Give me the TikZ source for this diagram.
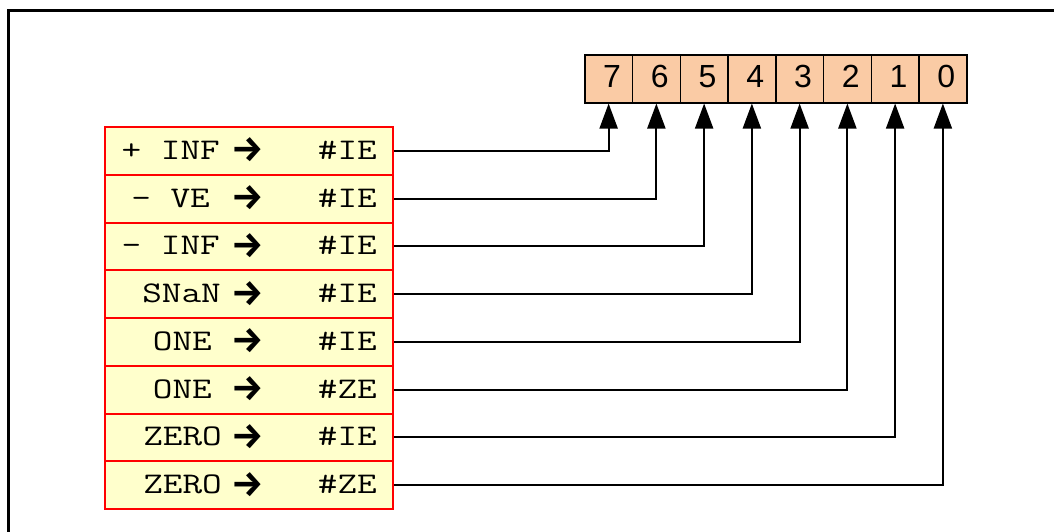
\documentclass[tikz,border=0pt]{standalone}
\usepackage{fontspec}
\setmainfont{Liberation Sans}
\setsansfont{Liberation Sans}
\newfontfamily\courfont[FakeStretch=1.27]{Latin Modern Mono}
\newfontfamily\arrowfont{Fira Sans}
\usetikzlibrary{arrows.meta}
\definecolor{tabfill}{HTML}{FFFFCC}
\definecolor{tabline}{HTML}{FF0000}
\definecolor{bitfill}{HTML}{FACBA5}
\tikzset{
  rowbox/.style={draw=tabline, line width=2pt, fill=tabfill, minimum width=288pt, minimum height=47.75pt, inner sep=0pt, anchor=north west},
  bitbox/.style={draw=black, line width=1.5pt, fill=bitfill, minimum width=47.75pt, minimum height=48pt, inner sep=0pt, anchor=north west},
  bitnum/.style={font=\sffamily\fontsize{32}{36}\selectfont, inner sep=0pt, anchor=base},
  lab/.style={font=\courfont\fontsize{30}{36}\selectfont, inner sep=0pt},
  arr/.style={font=\arrowfont\bfseries\fontsize{36}{40}\selectfont, inner sep=0pt, anchor=center},
  conn/.style={draw=black, line width=2pt, -{Triangle[length=25pt,width=18pt]}},
  frame/.style={draw=black, line width=3pt}
}
\begin{document}
\begin{tikzpicture}[x=1pt,y=-1pt]
\useasboundingbox (0,0) rectangle (1054,531);
\clip (0,0) rectangle (1054,531);
\draw[frame] (8,560) -- (8,10) -- (1080,10);
% bit cells
\foreach \i/\n in {0/7,1/6,2/5,3/4,4/3,5/2,6/1,7/0}{
  \node[bitbox] (b\n) at ({584+47.75*\i},54) {};
  \node[bitnum] (bn\n) at ({584+47.75*\i+27.9},87) {\n};
}
% table rows
\foreach \i in {1,...,8}{
  \node[rowbox] (r\i) at (104,{126+47.75*(\i-1)}) {};
}
% left labels
\node[lab, anchor=base east] (l1) at (220,159.3) {+ INF};
\node[lab, anchor=base east] (l2) at (210,207.0) {- VE};
\node[lab, anchor=base east] (l3) at (220,254.8) {- INF};
\node[lab, anchor=base east] (l4) at (221,302.5) {SNaN};
\node[lab, anchor=base east] (l5) at (212,350.3) {ONE};
\node[lab, anchor=base east] (l6) at (212,398.0) {ONE};
\node[lab, anchor=base east] (l7) at (222,445.8) {ZERO};
\node[lab, anchor=base east] (l8) at (222,493.5) {ZERO};
% arrows
\foreach \i in {1,...,8}{
  \node[arr] (a\i) at (248,{150+47.75*(\i-1)}) {→};
}
% right labels
\node[lab, anchor=base east] (e1) at (377,159.3) {\#IE};
\node[lab, anchor=base east] (e2) at (377,207.0) {\#IE};
\node[lab, anchor=base east] (e3) at (377,254.8) {\#IE};
\node[lab, anchor=base east] (e4) at (377,302.5) {\#IE};
\node[lab, anchor=base east] (e5) at (377,350.3) {\#IE};
\node[lab, anchor=base east] (e6) at (377,398.0) {\#ZE};
\node[lab, anchor=base east] (e7) at (377,445.8) {\#IE};
\node[lab, anchor=base east] (e8) at (377,493.5) {\#ZE};
% connectors
\draw[conn] (r1.east) -| (b7.south);
\draw[conn] (r2.east) -| (b6.south);
\draw[conn] (r3.east) -| (b5.south);
\draw[conn] (r4.east) -| (b4.south);
\draw[conn] (r5.east) -| (b3.south);
\draw[conn] (r6.east) -| (b2.south);
\draw[conn] (r7.east) -| (b1.south);
\draw[conn] (r8.east) -| (b0.south);
\end{tikzpicture}
\end{document}
